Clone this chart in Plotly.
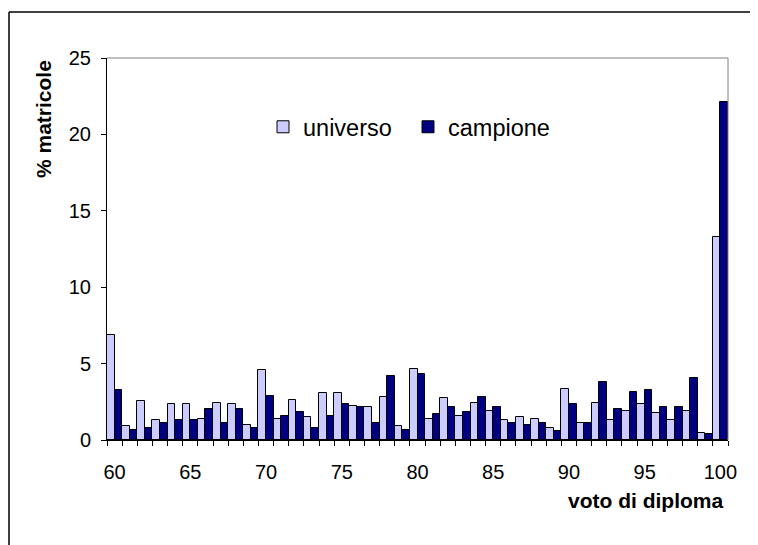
import plotly.graph_objects as go

# voto di diploma 60..100
voti = list(range(60, 101))

universo = [6.85, 0.9, 2.53, 1.3, 2.35, 2.35, 1.4, 2.44, 2.35, 1.0,
            4.58, 1.4, 2.6, 1.5, 3.05, 3.05, 2.22, 2.13, 2.83, 0.9,
            4.66, 1.4, 2.72, 1.6, 2.44, 1.92, 1.3, 1.5, 1.4, 0.78,
            3.35, 1.09, 2.44, 1.3, 1.92, 2.33, 1.8, 1.3, 1.92, 0.48,
            13.3]
campione = [3.27, 0.68, 0.78, 1.1, 1.3, 1.3, 2.03, 1.1, 2.03, 0.78,
            2.85, 1.6, 1.83, 0.78, 1.6, 2.35, 2.13, 1.1, 4.2, 0.68,
            4.29, 1.72, 2.13, 1.83, 2.83, 2.13, 1.1, 1.0, 1.1, 0.59,
            2.35, 1.09, 3.77, 2.03, 3.14, 3.27, 2.13, 2.13, 4.07, 0.37,
            22.1]

x_labels = [60, 65, 70, 75, 80, 85, 90, 95, 100]

FONT = "Liberation Sans, Arial, sans-serif"

# plot area as seen on the page (page body adds an 8px offset)
PX0, PX1, PY0, PY1 = 107, 728, 58, 440
OFF = 8


def px(x):
    return (x - PX0) / (PX1 - PX0)


def py(y):
    return (PY1 - y) / (PY1 - PY0)


fig = go.Figure()
fig.add_trace(go.Bar(x=voti, y=universo, name="universo",
                     marker=dict(color="#CCCCFF", line=dict(color="black", width=1))))
fig.add_trace(go.Bar(x=voti, y=campione, name="campione",
                     marker=dict(color="#000080", line=dict(color="black", width=1))))

fig.update_layout(
    width=758, height=545,
    margin=dict(l=PX0 - OFF, r=758 - PX1 + OFF, t=PY0 - OFF, b=545 - PY1 + OFF),
    paper_bgcolor="white", plot_bgcolor="white",
    barmode="group", bargap=0, bargroupgap=0,
    font=dict(family=FONT, color="black", size=20),
    showlegend=True,
    legend=dict(orientation="h", x=px(263), y=py(127), xanchor="left", yanchor="middle",
                font=dict(size=23.5), bgcolor="rgba(0,0,0,0)",
                entrywidth=100, entrywidthmode="pixels"),
)

fig.update_xaxes(
    range=[59.5, 100.5], tickmode="array", tickvals=x_labels,
    ticks="", showgrid=False, zeroline=False,
    showline=True, linecolor="black", linewidth=1, mirror=False,
    tickfont=dict(size=20), ticklabelstandoff=14,
    minor=dict(tickmode="linear", tick0=59.5, dtick=1, ticks="outside",
               ticklen=5, tickcolor="black", showgrid=False),
)
fig.update_yaxes(
    range=[0, 25], tickmode="linear", tick0=0, dtick=5,
    ticks="outside", ticklen=5, tickcolor="black",
    showgrid=False, zeroline=False,
    showline=True, linecolor="black", linewidth=1,
    tickfont=dict(size=20), ticklabelstandoff=6,
)

# grey top and right border of plot area, black outer chart frame
fig.add_shape(type="line", xref="paper", yref="paper", x0=0, x1=1, y0=1, y1=1,
              line=dict(color="#808080", width=1))
fig.add_shape(type="line", xref="paper", yref="paper", x0=1, x1=1, y0=0, y1=1,
              line=dict(color="#808080", width=1))
fig.add_shape(type="line", xref="paper", yref="paper",
              x0=px(9), x1=px(780), y0=py(12), y1=py(12),
              line=dict(color="black", width=1.5))
fig.add_shape(type="line", xref="paper", yref="paper",
              x0=px(9), x1=px(9), y0=py(12), y1=py(580),
              line=dict(color="black", width=1.5))

fig.add_annotation(text="<b>voto di diploma</b>", xref="paper", yref="paper",
                   x=px(725), y=py(500), xanchor="right", yanchor="middle",
                   showarrow=False, font=dict(size=21))
fig.add_annotation(text="<b>% matricole</b>", xref="paper", yref="paper",
                   x=px(43), y=py(119), xanchor="center", yanchor="middle",
                   textangle=-90, showarrow=False, font=dict(size=21))

fig.write_html("out.html")
